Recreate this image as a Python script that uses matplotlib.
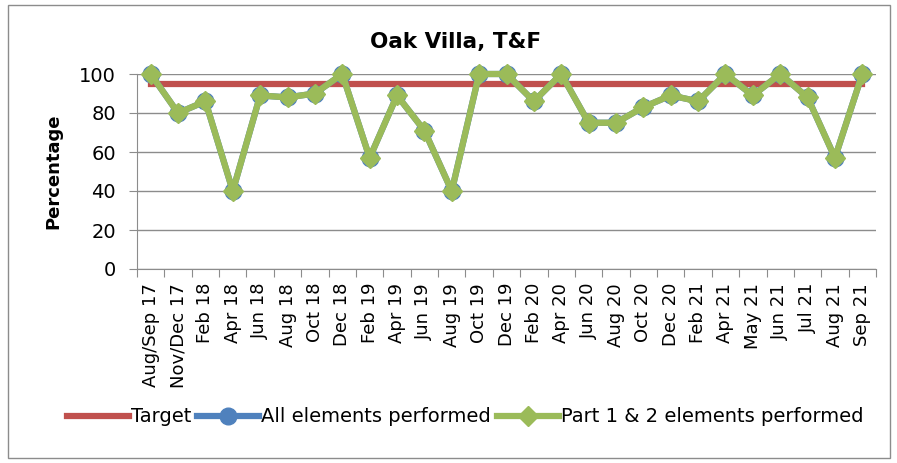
import matplotlib.pyplot as plt
from matplotlib.patches import Rectangle

plt.rcParams['font.family'] = ['DejaVu Sans']

labels = ['Aug/Sep 17', 'Nov/Dec 17', 'Feb 18', 'Apr 18', 'Jun 18', 'Aug 18', 'Oct 18',
          'Dec 18', 'Feb 19', 'Apr 19', 'Jun 19', 'Aug 19', 'Oct 19', 'Dec 19', 'Feb 20',
          'Apr 20', 'Jun 20', 'Aug 20', 'Oct 20', 'Dec 20', 'Feb 21', 'Apr 21', 'May 21',
          'Jun 21', 'Jul 21', 'Aug 21', 'Sep 21']
target = [95] * len(labels)
all_elements = [100, 80, 86, 40, 89, 88, 90, 100, 57, 89, 71, 40, 100, 100, 86,
                100, 75, 75, 83, 89, 86, 100, 89, 100, 88, 57, 100]
part12 = [100, 80, 86, 40, 89, 88, 90, 100, 57, 89, 71, 40, 100, 100, 86,
          100, 75, 75, 83, 89, 86, 100, 89, 100, 88, 57, 100]

red = '#C0504D'
blue = '#4F81BD'
green = '#9BBB59'

fig = plt.figure(figsize=(8.97, 4.63), dpi=100)
fig.patches.append(Rectangle((8 / 897, 1 - 458 / 463), 882 / 897, 453 / 463,
                             transform=fig.transFigure, fill=False,
                             edgecolor='#8c8c8c', linewidth=1))
ax = fig.add_axes([137 / 897, 1 - 269 / 463, 739 / 897, 195 / 463])

x = list(range(len(labels)))
ax.plot(x, target, color=red, linewidth=4.5, label='Target', zorder=3)
ax.plot(x, all_elements, color=blue, linewidth=4.5, marker='o', markersize=12,
        label='All elements performed', zorder=4, clip_on=False)
ax.plot(x, part12, color=green, linewidth=4.5, marker='D', markersize=10,
        label='Part 1 & 2 elements performed', zorder=5, clip_on=False)

ax.set_xlim(-0.5, len(labels) - 0.5)
ax.set_ylim(0, 100)
ax.set_yticks(range(0, 101, 20))
ax.tick_params(axis='y', labelsize=14, length=6, color='#8c8c8c', pad=9)
ax.set_xticks([i - 0.5 for i in range(len(labels) + 1)], minor=False)
ax.set_xticklabels([])
ax.set_xticks(x, minor=True)
ax.set_xticklabels(labels, minor=True, rotation=90, fontsize=13)
ax.tick_params(axis='x', which='major', length=6, color='#8c8c8c')
ax.tick_params(axis='x', which='minor', length=0, pad=10)

ax.grid(axis='y', color='#8c8c8c', linewidth=1)
ax.set_axisbelow(True)
for s in ['top', 'right']:
    ax.spines[s].set_visible(False)
ax.spines['left'].set_color('#8c8c8c')
ax.spines['bottom'].set_color('#8c8c8c')

ax.set_ylabel('Percentage', fontsize=13, fontweight='bold', labelpad=12)
fig.text(456 / 897, 1 - 42 / 463, 'Oak Villa, T&F', fontsize=15.5, fontweight='bold',
         ha='center', va='center')

fig.legend(loc='center', bbox_to_anchor=(465 / 897, 1 - 417 / 463), ncol=3,
           frameon=False, fontsize=14, handlelength=3.2, handletextpad=0.1,
           columnspacing=0.3)

fig.savefig('out.png', dpi=100)
